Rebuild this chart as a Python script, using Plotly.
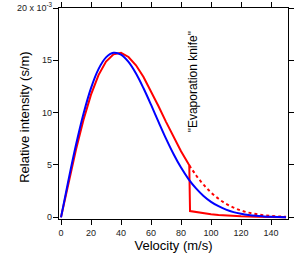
import plotly.graph_objects as go

# Velocity grid (m/s)
velocity = [0, 5, 10, 15, 20, 25, 30, 35, 40, 45, 50, 55, 60, 65, 70, 75, 80, 85,
            90, 95, 100, 105, 110, 115, 120, 125, 130, 135, 140, 145, 150]

# Blue distribution (x 1e-3 s/m)
blue_vals = [0, 3.57, 6.93, 9.90, 12.35, 14.16, 15.28, 15.72, 15.55, 14.85, 13.74,
             12.33, 10.76, 9.12, 7.52, 6.05, 4.75, 3.65, 2.76, 2.04, 1.48, 1.06,
             0.74, 0.50, 0.34, 0.22, 0.14, 0.09, 0.055, 0.032, 0.019]

# Red distribution before the knife (x 1e-3 s/m)
red_v = [0, 5, 10, 15, 20, 25, 30, 35, 40, 45, 50, 55, 60, 65, 70, 75, 80, 85, 85.5]
red_vals = [0, 3.32, 6.48, 9.32, 11.72, 13.59, 14.88, 15.57, 15.72, 15.32, 14.53,
            13.41, 12.07, 10.61, 9.12, 7.67, 6.31, 5.09, 4.98]

# Red after the knife (solid, low)
red_cut_v = [85.5, 86, 90, 95, 100, 105, 110, 115, 120, 130, 140, 150]
red_cut_vals = [4.98, 0.60, 0.50, 0.40, 0.30, 0.23, 0.17, 0.13, 0.10, 0.05, 0.02, 0.01]

# Red continuation without the knife (dotted)
red_dot_v = [85.5, 90, 95, 100, 105, 110, 115, 120, 125, 130, 135, 140, 145, 150]
red_dot_vals = [4.98, 4.02, 3.12, 2.37, 1.77, 1.29, 0.93, 0.65, 0.45, 0.31, 0.20,
                0.13, 0.086, 0.054]

y_tickvals = [0, 5, 10, 15, 20]
y_ticktext = ["0", "5", "10", "15", "20 x 10<sup>-3</sup>"]
x_tickvals = [0, 20, 40, 60, 80, 100, 120, 140]

RED = "#ff0000"
BLUE = "#0000ff"
FONT = "Liberation Sans, Arial, sans-serif"

fig = go.Figure()
fig.add_trace(go.Scatter(x=red_dot_v, y=red_dot_vals, mode="lines",
                         line=dict(color=RED, width=2, dash="dot", shape="spline")))
fig.add_trace(go.Scatter(x=red_v + red_cut_v[1:], y=red_vals + red_cut_vals[1:], mode="lines",
                         line=dict(color=RED, width=2)))
fig.add_trace(go.Scatter(x=velocity, y=blue_vals, mode="lines",
                         line=dict(color=BLUE, width=2, shape="spline")))

fig.add_annotation(x=88, y=12.9, text="\"Evaporation knife\"", showarrow=False,
                   textangle=-90, xanchor="center", yanchor="middle",
                   font=dict(size=12, color="#000000", family=FONT))

# Y axis title placed as an annotation for precise positioning
fig.add_annotation(xref="paper", yref="paper", x=-0.148, y=0.48,
                   text="Relative intensity (s/m)", showarrow=False, textangle=-90,
                   xanchor="center", yanchor="middle",
                   font=dict(size=13, color="#000000", family=FONT))

axis_common = dict(showline=True, linecolor="#000000", linewidth=1.3, mirror="ticks",
                   ticks="outside", ticklen=5, tickwidth=1, tickcolor="#000000",
                   showgrid=False, zeroline=False, automargin=False,
                   tickfont=dict(size=9, color="#222222", family=FONT))

fig.update_xaxes(range=[-1.33, 151.3], tickvals=x_tickvals,
                 title=dict(text="Velocity (m/s)",
                            font=dict(size=13, color="#000000", family=FONT)),
                 **axis_common)
fig.update_yaxes(range=[-0.16, 20], tickvals=y_tickvals, ticktext=y_ticktext,
                 ticklabelstandoff=-1,
                 **axis_common)

fig.update_layout(width=307, height=253, margin=dict(l=59, r=19, t=8, b=34),
                  plot_bgcolor="#ffffff", paper_bgcolor="#ffffff", showlegend=False)

fig.write_html("out.html", config={"displayModeBar": False},
               post_script="document.body.style.margin='0px';")
